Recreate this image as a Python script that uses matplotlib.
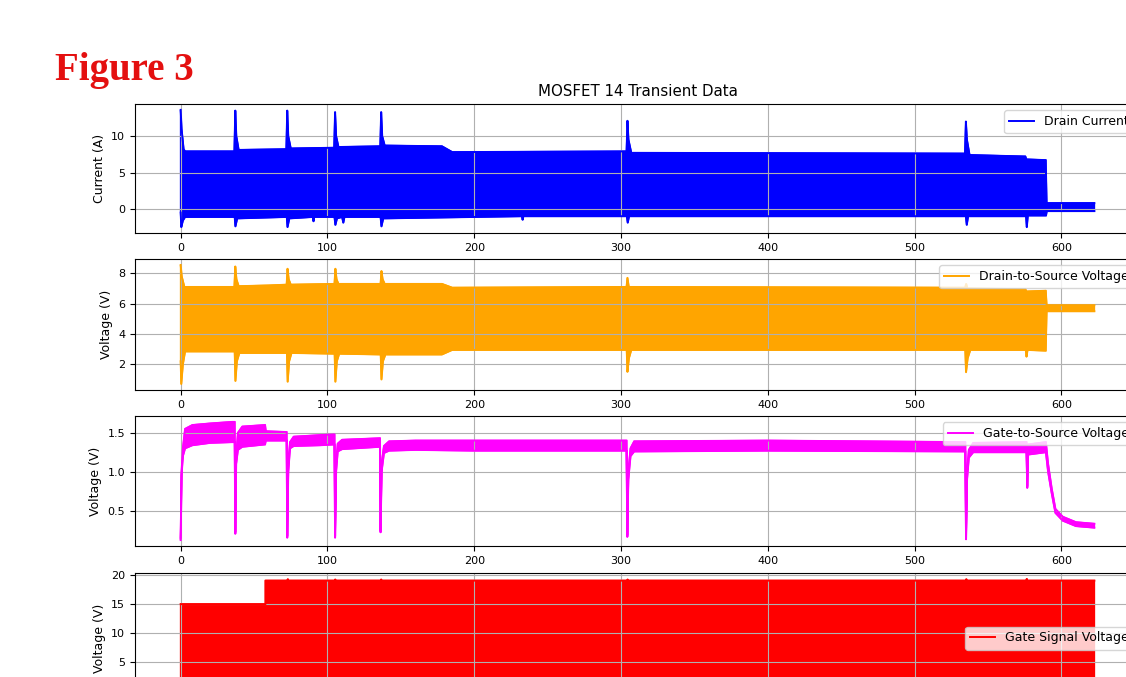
import matplotlib
matplotlib.use("Agg")
import matplotlib.pyplot as plt
import numpy as np

# drain current envelope (time in s, current in A)
cur_hi_t = [0, 0.6, 2, 3, 36.6, 37.2, 37.9, 39.5, 72, 72.6, 73.3, 75, 104.6, 105.2, 105.9, 107.5,
            136, 136.6, 137.3, 139, 178, 185, 303.8, 304.4, 305.1, 307, 534.4, 535, 535.7, 537.5,
            575.5, 576.2, 589.4, 590, 622.5]
cur_hi = [13.6, 11, 8.2, 7.9, 7.9, 13.5, 10, 8.1, 8.2, 13.5, 10, 8.3, 8.4, 13.3, 10, 8.5,
          8.6, 13.3, 10, 8.7, 8.6, 7.8, 7.9, 12.1, 9.5, 7.7, 7.6, 12.0, 9.5, 7.4,
          7.2, 6.8, 6.7, 0.8, 0.8]
cur_lo_t = [0, 0.4, 1.5, 3, 36.8, 37.3, 38.5, 72.3, 72.8, 74, 90, 90.5, 91, 104.8, 105.4, 106.5,
            110, 110.8, 111.6, 136.2, 136.8, 138, 232.5, 233, 233.5, 304, 304.6, 305.5,
            535, 535.6, 536.5, 576, 576.5, 577.2, 589.6, 590.1, 622.5]
cur_lo = [-0.5, -2.5, -1.6, -1.1, -1.1, -2.4, -1.3, -1.1, -2.5, -1.3, -1.1, -1.7, -1.1, -1.1, -2.2, -1.3,
          -1.1, -1.9, -1.1, -1.1, -2.4, -1.3, -1.0, -1.5, -1.0, -1.0, -1.9, -1.0,
          -1.0, -2.2, -1.0, -1.0, -2.5, -0.9, -0.9, -0.3, -0.3]

# drain-to-source voltage envelope (V)
vds_hi_t = [0, 0.7, 2.5, 36.6, 37.2, 38, 39.5, 60, 72.2, 72.8, 73.6, 75, 104.8, 105.4, 106.2, 107.5,
            136.2, 136.8, 137.6, 139, 178, 185, 303.8, 304.4, 305.3, 534.5, 535.2, 536,
            575.5, 576.2, 589.4, 590, 622.5]
vds_hi = [8.55, 7.8, 7.1, 7.1, 8.45, 7.6, 7.15, 7.2, 7.25, 8.3, 7.6, 7.25, 7.3, 8.3, 7.6, 7.3,
          7.3, 8.15, 7.6, 7.3, 7.3, 7.05, 7.1, 7.7, 7.1, 7.05, 7.3, 7.0,
          6.95, 6.8, 6.85, 5.9, 5.9]
vds_lo_t = [0, 0.4, 1.5, 3, 36.8, 37.3, 38.3, 40, 72.4, 72.9, 73.9, 75.5, 104.9, 105.4, 106.4, 108,
            136.3, 136.8, 137.8, 139.5, 178, 185, 303.9, 304.4, 305.4, 307, 534.6, 535.1, 536.2, 538,
            575.8, 576.3, 577, 589.4, 590, 622.5]
vds_lo = [2.2, 0.7, 2.0, 2.85, 2.85, 0.9, 2.2, 2.75, 2.75, 0.85, 2.2, 2.75, 2.7, 0.85, 2.2, 2.7,
          2.65, 1.0, 2.2, 2.65, 2.65, 2.95, 2.95, 1.5, 2.4, 2.95, 2.95, 1.48, 2.4, 2.95,
          2.95, 2.5, 2.95, 2.9, 5.5, 5.5]

# gate-to-source voltage envelope (V)
vgs_t = [0, 0.6, 1.5, 3, 8, 20, 35, 36.8, 37.2, 37.8, 39, 42, 57.5, 58, 72.2, 72.6, 73.3, 74.5, 77, 95,
         104.8, 105.2, 105.9, 107, 110, 135.8, 136.2, 136.9, 138.5, 142, 160, 200, 303.8, 304.3, 305,
         306.5, 309, 400, 534.6, 535.1, 535.8, 537, 540, 576.3, 576.8, 577.4, 589.5, 591, 593.5, 596,
         601, 610, 622.5]
vgs_hi = [0.15, 1.0, 1.3, 1.55, 1.6, 1.62, 1.64, 1.64, 0.22, 1.2, 1.5, 1.58, 1.6, 1.52, 1.51, 0.17,
          1.1, 1.38, 1.45, 1.47, 1.48, 0.17, 1.1, 1.36, 1.41, 1.43, 0.24, 1.1, 1.33, 1.39, 1.40, 1.40,
          1.40, 0.18, 1.0, 1.3, 1.39, 1.40, 1.38, 0.15, 1.0, 1.28, 1.37, 1.38, 0.81, 1.35, 1.38, 1.1,
          0.78, 0.52, 0.42, 0.35, 0.33]
vgs_lo = [0.12, 0.95, 1.2, 1.3, 1.34, 1.37, 1.38, 1.38, 0.2, 1.1, 1.28, 1.32, 1.35, 1.40, 1.40, 0.15,
          1.0, 1.3, 1.33, 1.34, 1.35, 0.15, 1.0, 1.26, 1.29, 1.32, 0.22, 1.0, 1.24, 1.27, 1.28, 1.27,
          1.27, 0.16, 0.9, 1.2, 1.26, 1.27, 1.26, 0.13, 0.9, 1.18, 1.25, 1.25, 0.79, 1.22, 1.25, 1.0,
          0.72, 0.47, 0.37, 0.30, 0.28]

# gate signal voltage envelope (V)
gs_t = [0, 57.8, 57.8, 72.5, 73, 73.5, 104.8, 105.3, 105.8, 136.1, 136.6, 137.1, 304, 304.5, 305,
        534.8, 535.3, 535.8, 576, 576.5, 577, 622.5]
gs_hi = [15, 15, 19.1, 19.1, 19.35, 19.1, 19.1, 19.3, 19.1, 19.1, 19.3, 19.1, 19.1, 19.3, 19.1,
         19.1, 19.35, 19.1, 19.1, 19.4, 19.1, 19.1]
gs_lo = [-1.2] * len(gs_t)

labels = ["Drain Current", "Drain-to-Source Voltage", "Gate-to-Source Voltage", "Gate Signal Voltage"]
ylabels = ["Current (A)", "Voltage (V)", "Voltage (V)", "Voltage (V)"]
colors = ["blue", "orange", "magenta", "red"]
legend_locs = ["upper right", "upper right", "upper right", "center right"]

fig = plt.figure(figsize=(11.26, 6.77), dpi=100)
fig.patch.set_facecolor("white")

left = 135 / 1126
width = (1140 - 135) / 1126
boxes = [(104, 233), (259, 390), (416, 546), (573, 703)]

series = [
    (cur_hi_t, cur_hi, cur_lo_t, cur_lo),
    (vds_hi_t, vds_hi, vds_lo_t, vds_lo),
    (vgs_t, vgs_hi, vgs_t, vgs_lo),
    (gs_t, gs_hi, gs_t, gs_lo),
]

axes = []
for i, (top, bot) in enumerate(boxes):
    ax = fig.add_axes([left, 1 - bot / 677, width, (bot - top) / 677])
    ht, hv, lt, lv = series[i]
    xs = np.concatenate([ht, lt[::-1]])
    ys = np.concatenate([hv, lv[::-1]])
    ax.fill(xs, ys, color=colors[i], lw=1.2)
    ax.plot(ht, hv, color=colors[i], lw=1.4, label=labels[i])
    ax.plot(lt, lv, color=colors[i], lw=1.4)
    ax.grid(True)
    ax.set_ylabel(ylabels[i], fontsize=9)
    ax.tick_params(labelsize=8)
    ax.legend(loc=legend_locs[i], fontsize=9)
    axes.append(ax)

axes[0].set_title("MOSFET 14 Transient Data", fontsize=10.8)
axes[0].set_yticks([0, 5, 10])
axes[1].set_yticks([2, 4, 6, 8])
axes[2].set_yticks([0.5, 1.0, 1.5])
axes[3].set_yticks([0, 5, 10, 15, 20])

fig.text(55 / 1126, 1 - 80 / 677, "Figure 3", family="Liberation Serif", weight="bold",
         fontsize=28, color="#e41010", va="baseline")

fig.savefig("out.png", dpi=100)
